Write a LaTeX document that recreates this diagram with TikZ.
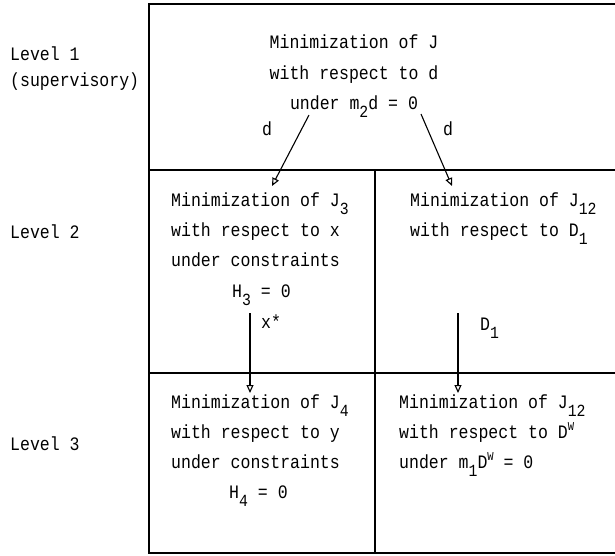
\documentclass[tikz,border=0pt]{standalone}
\usepackage{fontspec}
\setmainfont{Liberation Mono}[FakeStretch=0.87]
\usetikzlibrary{arrows.meta}
\newcommand\lo[1]{\raisebox{-8pt}{\fontsize{17}{17}\selectfont #1}}
\newcommand\hi[1]{\raisebox{8pt}{\fontsize{12}{12}\selectfont #1}}
\tikzset{
  txt/.style={inner sep=0pt, anchor=base west, font=\fontsize{19}{19}\selectfont},
  ctxt/.style={txt, anchor=base},
  frame/.style={line width=1.4pt},
  flow/.style={line width=1.1pt, -{Triangle[open, length=8pt, width=7pt]}}
}
\begin{document}
\begin{tikzpicture}[x=1pt,y=-1pt]
\useasboundingbox (0,0) rectangle (615,555);
% frame
\draw[frame] (615,4) -- (149,4) -- (149,553) -- (615,553);
\draw[frame] (149,170) -- (615,170);
\draw[frame] (149,373) -- (615,373);
\draw[frame] (375,170) -- (375,553);
% level labels
\node[txt] (l1) at (10,60) {Level 1};
\node[txt] (l1b) at (10,86) {(supervisory)};
\node[txt] (l2) at (10,238) {Level 2};
\node[txt] (l3) at (10,450) {Level 3};
% level 1
\node[ctxt] (a1) at (354,48) {Minimization of J};
\node[ctxt] (a2) at (354,79) {with respect to d};
\node[ctxt] (a3) at (354,109) {under m\lo{2}d = 0};
\node[txt] (dl) at (262,135) {d};
\node[txt] (dr) at (443,135) {d};
% level 2 left
\node[txt] (b1) at (171,206) {Minimization of J\lo{3}};
\node[txt] (b2) at (171,236) {with respect to x};
\node[txt] (b3) at (171,266) {under constraints};
\node[txt] (b4) at (232,297) {H\lo{3} = 0};
% level 2 right
\node[txt] (c1) at (410,206) {Minimization of J\lo{12}};
\node[txt] (c2) at (410,236) {with respect to D\lo{1}};
% level 3 left
\node[txt] (e1) at (171,408) {Minimization of J\lo{4}};
\node[txt] (e2) at (171,438) {with respect to y};
\node[txt] (e3) at (171,468) {under constraints};
\node[txt] (e4) at (229,498) {H\lo{4} = 0};
% level 3 right
\node[txt] (f1) at (399,408) {Minimization of J\lo{12}};
\node[txt] (f2) at (399,438) {with respect to D\hi{W}};
\node[txt] (f3) at (399,468) {under m\lo{1}D\hi{W} = 0};
% arrow labels
\node[txt] (xs) at (261,328) {x*};
\node[txt] (dd) at (480,330) {D\lo{1}};
% arrow ends
\coordinate (sL) at (309,115);
\coordinate (tL) at (272,186);
\coordinate (sR) at (421,114);
\coordinate (tR) at (452,186);
\coordinate (sX) at (250,313);
\coordinate (tX) at (250,393);
\coordinate (sD) at (458,313);
\coordinate (tD) at (458,393);
\draw[flow] (sL) -- (tL);
\draw[flow] (sR) -- (tR);
\draw[flow] (sX) -- (tX);
\draw[flow] (sD) -- (tD);
\end{tikzpicture}
\end{document}
